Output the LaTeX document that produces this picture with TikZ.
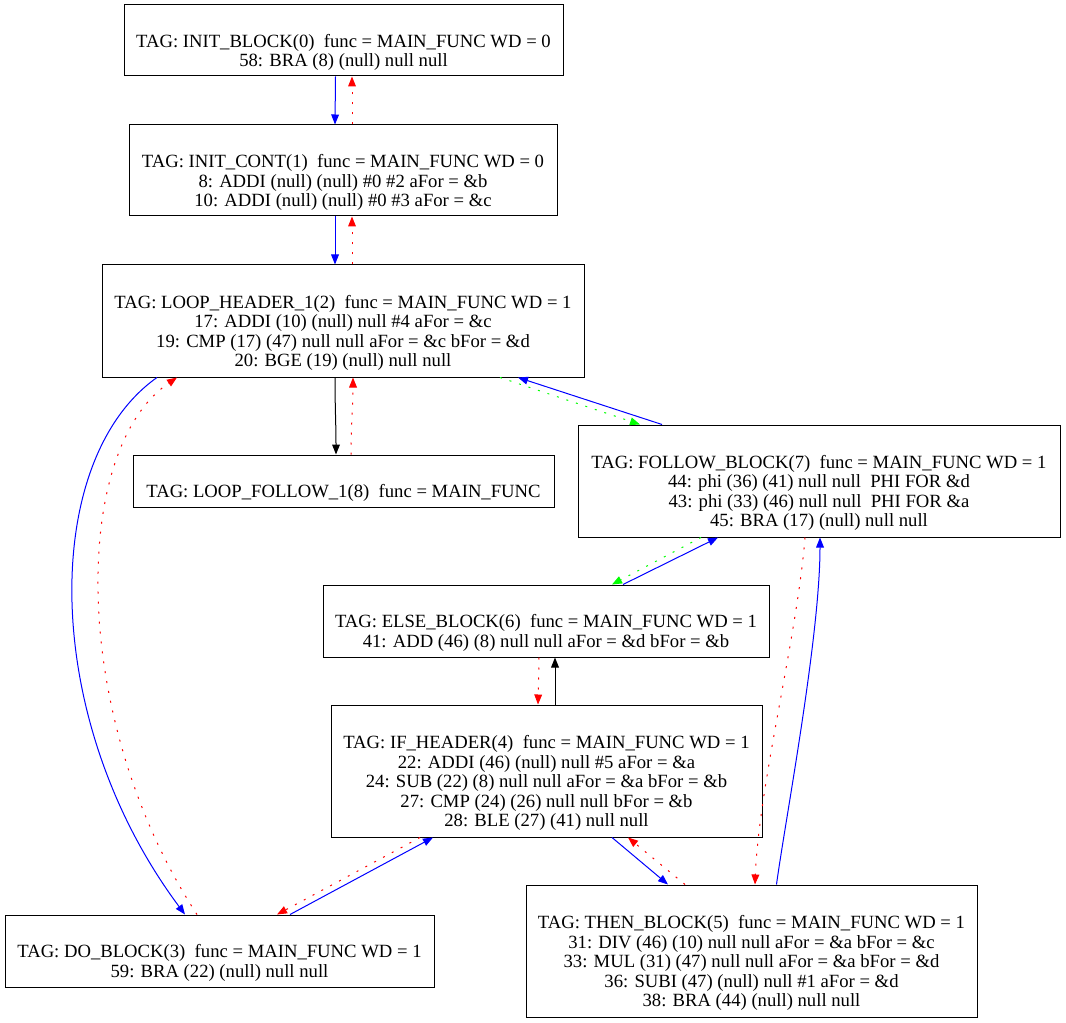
\documentclass[tikz,border=0pt]{standalone}
\usepackage{fontspec}
\setmainfont{Liberation Serif}
\usetikzlibrary{arrows.meta,calc}
\definecolor{eblue}{RGB}{0,0,255}
\definecolor{ered}{RGB}{255,0,0}
\definecolor{egreen}{RGB}{0,255,0}
% empty first label line, a little taller than a strut
\newcommand{\toprow}{\rule{0pt}{14.7pt}}
\begin{document}
\begin{tikzpicture}[x=0.75pt,y=-0.75pt,
  block/.style={draw=black,line width=0.75pt,rectangle,align=center,inner sep=0pt,
    font=\fontsize{14}{14.6}\selectfont},
  edge/.style={line width=0.75pt,-{Triangle[length=7.5pt,width=5.8pt]}},
  ctrl/.style={edge,draw=eblue},
  plain/.style={edge,draw=black},
  back/.style={edge,draw=ered,dash pattern=on 1.5pt off 6pt},
  fwd/.style={edge,draw=egreen,dash pattern=on 1.5pt off 6pt}]
\useasboundingbox (0,0) rectangle (1066,1023);

% basic blocks
\node[block,minimum width=439*0.75pt,minimum height=71*0.75pt] (init) at (343.5,40.5)
  {\toprow\\TAG: INIT\_BLOCK(0)\ \ func = MAIN\_FUNC WD = 0\\58: BRA (8) (null) null null\strut};
\node[block,minimum width=428*0.75pt,minimum height=91*0.75pt] (cont) at (343,170.5)
  {\toprow\\TAG: INIT\_CONT(1)\ \ func = MAIN\_FUNC WD = 0\\8: ADDI (null) (null) \#0 \#2 aFor = \&b\\10: ADDI (null) (null) \#0 \#3 aFor = \&c\strut};
\node[block,minimum width=482*0.75pt,minimum height=112*0.75pt] (lh) at (343,321)
  {\toprow\\TAG: LOOP\_HEADER\_1(2)\ \ func = MAIN\_FUNC WD = 1\\17: ADDI (10) (null) null \#4 aFor = \&c\\19: CMP (17) (47) null null aFor = \&c bFor = \&d\\20: BGE (19) (null) null null\strut};
\node[block,minimum width=421*0.75pt,minimum height=52*0.75pt] (lf) at (343.5,481)
  {\toprow\\TAG: LOOP\_FOLLOW\_1(8)\ \ func = MAIN\_FUNC\strut};
\node[block,minimum width=482*0.75pt,minimum height=112*0.75pt] (fb) at (819,481)
  {\toprow\\TAG: FOLLOW\_BLOCK(7)\ \ func = MAIN\_FUNC WD = 1\\44: phi (36) (41) null null\ \ PHI FOR \&d\\43: phi (33) (46) null null\ \ PHI FOR \&a\\45: BRA (17) (null) null null\strut};
\node[block,minimum width=446*0.75pt,minimum height=72*0.75pt] (eb) at (546,621)
  {\toprow\\TAG: ELSE\_BLOCK(6)\ \ func = MAIN\_FUNC WD = 1\\41: ADD (46) (8) null null aFor = \&d bFor = \&b\strut};
\node[block,minimum width=431*0.75pt,minimum height=132*0.75pt] (ih) at (546.5,771)
  {\toprow\\TAG: IF\_HEADER(4)\ \ func = MAIN\_FUNC WD = 1\\22: ADDI (46) (null) null \#5 aFor = \&a\\24: SUB (22) (8) null null aFor = \&a bFor = \&b\\27: CMP (24) (26) null null bFor = \&b\\28: BLE (27) (41) null null\strut};
\node[block,minimum width=429*0.75pt,minimum height=72*0.75pt] (db) at (219.5,951)
  {\toprow\\TAG: DO\_BLOCK(3)\ \ func = MAIN\_FUNC WD = 1\\59: BRA (22) (null) null null\strut};
\node[block,minimum width=451*0.75pt,minimum height=132*0.75pt] (tb) at (751.5,951)
  {\toprow\\TAG: THEN\_BLOCK(5)\ \ func = MAIN\_FUNC WD = 1\\31: DIV (46) (10) null null aFor = \&a bFor = \&c\\33: MUL (31) (47) null null aFor = \&a bFor = \&d\\36: SUBI (47) (null) null \#1 aFor = \&d\\38: BRA (44) (null) null null\strut};

% straight chain at the top
\draw[ctrl] ($(init.south)+(-8,0)$) -- ($(cont.north)+(-8,0)$);
\draw[back] ($(cont.north)+(9,0)$) -- ($(init.south)+(8.5,0)$);
\draw[ctrl] ($(cont.south)+(-8,0)$) -- ($(lh.north)+(-8,0)$);
\draw[back] ($(lh.north)+(9,0)$) -- ($(cont.south)+(9,0)$);

% loop header and its follow block
\draw[plain] ($(lh.south)+(-8,0)$) .. controls +(0,30) and +(0,-30) .. ($(lf.north)+(-7.5,0)$);
\draw[back] ($(lf.north)+(7.5,0)$) .. controls +(0,-30) and +(0,30) .. ($(lh.south)+(10,0)$);

% loop header and the do block
\draw[ctrl] ($(lh.south)+(-186,0)$) .. controls (40,460) and (40,720) .. ($(db.north)+(-34.5,0)$);
\draw[back] ($(db.north)+(-22.5,0)$) .. controls (70,720) and (70,450) .. ($(lh.south)+(-166,0)$);

% loop header and the follow block on the right
\draw[ctrl] ($(fb.north)+(-157,0)$) -- ($(lh.south)+(175,0)$);
\draw[fwd] ($(lh.south)+(157,0)$) -- ($(fb.north)+(-179,0)$);

% follow block and the else block
\draw[ctrl] ($(eb.north)+(77,0)$) -- ($(fb.south)+(-101,0)$);
\draw[fwd] ($(fb.south)+(-118,0)$) -- ($(eb.north)+(66,0)$);

% if header and the else block
\draw[plain] ($(ih.north)+(8.5,0)$) -- ($(eb.south)+(9,0)$);
\draw[back] ($(eb.south)+(-7,0)$) -- ($(ih.north)+(-8.5,0)$);

% if header and the do block
\draw[back] ($(ih.south)+(-126.5,0)$) -- ($(db.north)+(57.5,0)$);
\draw[ctrl] ($(db.north)+(70.5,0)$) -- ($(ih.south)+(-113.5,0)$);

% if header and the then block
\draw[ctrl] ($(ih.south)+(65.5,0)$) -- ($(tb.north)+(-83.5,0)$);
\draw[back] ($(tb.north)+(-66.5,0)$) -- ($(ih.south)+(81.5,0)$);

% follow block and the then block
\draw[back] ($(fb.south)+(-14,0)$) .. controls +(-8,100) and +(4,-100) .. ($(tb.north)+(3.5,0)$);
\draw[ctrl] ($(tb.north)+(25,0)$) .. controls +(8,-60) and +(0,100) .. ($(fb.south)+(1,0)$);
\end{tikzpicture}
\end{document}
